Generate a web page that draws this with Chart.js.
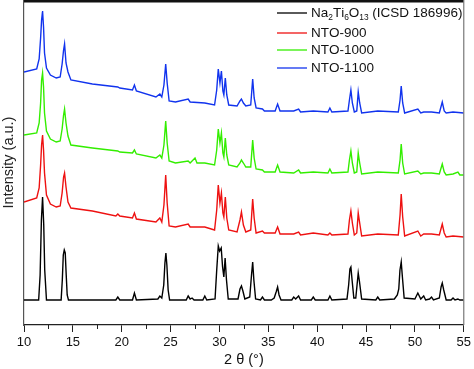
<!DOCTYPE html>
<html>
<head>
<meta charset="utf-8">
<script src="https://cdn.jsdelivr.net/npm/chart.js@4"></script>
<style>
  body { margin: 0; background: #fff; }
  #wrap { width: 474px; height: 369px; }
</style>
</head>
<body>
<div id="wrap"><canvas id="xrdChart" width="474" height="369"></canvas></div>
<script>
// XRD patterns, [2theta, intensity (a.u.)], curves already offset for stacking
const refPattern = [
  [10, 25], [11.5, 25], [11.65, 50], [11.78, 105], [11.9, 128], [12.02, 100], [12.12, 55], [12.3, 25],
  [13.8, 25], [13.92, 45], [14.02, 70], [14.12, 75], [14.22, 72], [14.32, 50], [14.42, 30], [14.55, 25],
  [19.4, 25], [19.6, 28], [19.8, 25], [21.1, 25], [21.3, 32], [21.5, 25],
  [23.7, 26], [23.9, 29], [24.1, 27], [24.3, 40], [24.42, 62], [24.52, 72], [24.62, 60], [24.75, 35], [24.9, 25],
  [26.6, 25], [26.8, 29], [27.0, 26], [27.2, 27], [27.4, 25], [28.3, 25], [28.5, 29], [28.7, 25],
  [29.55, 26], [29.72, 55], [29.88, 79], [30.02, 74], [30.18, 77], [30.32, 58], [30.45, 48],
  [30.58, 67], [30.72, 45], [30.9, 26],
  [31.9, 26], [32.1, 36], [32.25, 39], [32.4, 34], [32.6, 26],
  [33.1, 28], [33.28, 50], [33.4, 63], [33.52, 45], [33.7, 26],
  [34.2, 25], [34.4, 28], [34.6, 25], [35.3, 25], [35.6, 27], [35.8, 33], [35.95, 38], [36.1, 30], [36.3, 25],
  [37.4, 25], [37.6, 28], [37.8, 26], [38.1, 29], [38.3, 25], [39.4, 25], [39.6, 28], [39.8, 25],
  [41.1, 25], [41.3, 29], [41.5, 25],
  [43.05, 26], [43.22, 40], [43.35, 56], [43.45, 58], [43.58, 44], [43.75, 27],
  [43.95, 27], [44.08, 40], [44.2, 52], [44.32, 44], [44.55, 26],
  [46.0, 25], [46.2, 28], [46.4, 25],
  [47.9, 26], [48.2, 30], [48.35, 36], [48.47, 55], [48.6, 63], [48.72, 48], [48.9, 27],
  [50.0, 26], [50.3, 32], [50.6, 26], [50.9, 29], [51.1, 25], [51.5, 26], [51.7, 28], [51.9, 25],
  [52.5, 27], [52.68, 38], [52.8, 42], [52.95, 35], [53.2, 25],
  [53.7, 25], [53.9, 27], [54.1, 25], [54.4, 26], [54.6, 25], [55, 25]
];

const nto900 = [
  [10, 123], [11.3, 127], [11.55, 137], [11.7, 160], [11.8, 180], [11.9, 190], [12.0, 175], [12.1, 152],
  [12.3, 130], [12.7, 121], [13.3, 118], [13.7, 119], [13.9, 132], [14.05, 148], [14.15, 152],
  [14.3, 138], [14.5, 123], [14.8, 117], [17, 114], [19.4, 109], [19.6, 111], [19.8, 109],
  [21.1, 107], [21.3, 112], [21.5, 106], [23.5, 103], [23.9, 107], [24.1, 103], [24.32, 120],
  [24.5, 150], [24.65, 122], [24.85, 99], [25.5, 98], [26.8, 101], [27.0, 98], [28.5, 98],
  [29.5, 95], [29.72, 115], [29.88, 140], [30.05, 122], [30.2, 132], [30.35, 112], [30.45, 108],
  [30.6, 128], [30.75, 107], [30.95, 95], [31.8, 93], [32.1, 105], [32.25, 113], [32.45, 100],
  [32.7, 93], [33.2, 95], [33.4, 126], [33.55, 107], [33.75, 92], [34.4, 94], [34.6, 92],
  [35.7, 92], [35.95, 98], [36.2, 91], [37.6, 91], [38.1, 93], [38.3, 90], [39.6, 92],
  [41.1, 90], [41.3, 92], [41.5, 90], [43.15, 91], [43.3, 105], [43.45, 114], [43.6, 102],
  [43.8, 90], [44.05, 92], [44.2, 112], [44.35, 102], [44.55, 89], [46.2, 91], [48.3, 90],
  [48.48, 110], [48.6, 131], [48.75, 108], [48.95, 89], [50.3, 94], [50.6, 89], [50.9, 91],
  [51.7, 91], [52.5, 90], [52.8, 101], [53.0, 92], [53.2, 88], [53.9, 89], [55, 88]
];

const nto1000 = [
  [10, 190], [11.3, 192], [11.55, 202], [11.7, 222], [11.8, 245], [11.9, 252], [12.0, 238], [12.1, 212],
  [12.3, 194], [12.7, 186], [13.3, 183], [13.7, 184], [13.9, 196], [14.05, 210], [14.15, 216],
  [14.3, 202], [14.5, 189], [14.8, 180], [17, 177], [19.6, 174], [19.8, 173],
  [21.1, 172], [21.3, 175], [21.5, 171], [23.5, 167], [23.9, 170], [24.1, 167], [24.32, 180],
  [24.5, 204], [24.65, 182], [24.85, 164], [25.5, 162], [26.8, 164], [27.0, 162], [27.5, 167],
  [27.7, 162], [28.5, 162], [29.5, 160], [29.72, 175], [29.88, 196], [30.05, 182], [30.2, 192],
  [30.35, 172], [30.45, 168], [30.6, 187], [30.75, 170], [30.95, 160], [31.8, 158], [32.1, 162],
  [32.25, 165], [32.45, 162], [32.7, 158], [33.2, 158], [33.4, 185], [33.55, 167], [33.75, 156],
  [34.4, 155], [34.6, 153], [35.7, 153], [35.95, 160], [36.2, 153], [37.6, 152], [38.1, 155],
  [38.3, 152], [39.6, 153], [41.1, 152], [41.3, 156], [41.5, 152], [43.15, 153], [43.3, 165],
  [43.45, 174], [43.6, 162], [43.8, 152], [44.05, 153], [44.2, 172], [44.35, 162], [44.55, 151],
  [46.2, 153], [48.3, 152], [48.48, 165], [48.6, 181], [48.75, 162], [48.95, 151], [50.3, 154],
  [50.6, 151], [50.9, 152], [51.7, 152], [52.5, 151], [52.8, 161], [53.0, 153], [53.2, 150],
  [53.9, 151], [54.4, 153], [54.6, 150], [55, 150]
];

const nto1100 = [
  [10, 253], [11.3, 256], [11.55, 266], [11.7, 287], [11.8, 305], [11.9, 314], [12.0, 298], [12.1, 272],
  [12.3, 257], [12.7, 250], [13.3, 247], [13.7, 248], [13.9, 261], [14.05, 275], [14.15, 281],
  [14.3, 262], [14.5, 253], [14.8, 245], [17, 241], [19.6, 238], [19.8, 237],
  [21.1, 235], [21.3, 240], [21.5, 234], [23.5, 228], [23.9, 231], [24.1, 228], [24.32, 240],
  [24.5, 261], [24.65, 242], [24.85, 224], [25.5, 223], [26.8, 226], [27.0, 223], [28.5, 222],
  [29.5, 220], [29.72, 235], [29.88, 256], [30.05, 242], [30.2, 254], [30.35, 234], [30.45, 230],
  [30.6, 247], [30.75, 230], [30.95, 220], [31.8, 219], [32.1, 224], [32.25, 226], [32.45, 222],
  [32.7, 219], [33.2, 220], [33.4, 246], [33.55, 227], [33.75, 217], [34.4, 216], [34.6, 214],
  [35.7, 214], [35.95, 221], [36.2, 214], [37.6, 214], [38.1, 216], [38.3, 213], [39.6, 214],
  [41.1, 213], [41.3, 217], [41.5, 213], [43.15, 214], [43.3, 225], [43.45, 235], [43.6, 222],
  [43.8, 213], [44.05, 214], [44.2, 233], [44.35, 222], [44.55, 212], [46.2, 214], [48.3, 213],
  [48.48, 225], [48.6, 239], [48.75, 222], [48.95, 212], [50.3, 216], [50.6, 212], [50.9, 213],
  [51.7, 213], [52.5, 212], [52.8, 223], [53.0, 214], [53.2, 212], [53.9, 213], [55, 212]
];

const seriesLabels = ['Na₂Ti₆O₁₃ (ICSD 186996)', 'NTO-900', 'NTO-1000', 'NTO-1100'];
const seriesColors = ['#000000', '#ee1111', '#33ee00', '#1133ee'];
const xTicks = [10, 15, 20, 25, 30, 35, 40, 45, 50, 55];

const FONT = "'Liberation Sans', Arial, sans-serif";
const subDigits = '₀₁₂₃₄₅₆₇₈₉';

// draws a label, turning unicode subscript digits into small lowered digits
function drawRichText(ctx, text, x, y, size) {
    for (const ch of text) {
        const sub = subDigits.indexOf(ch);
        if (sub >= 0) {
            ctx.font = (size * 0.62) + 'px ' + FONT;
            ctx.fillText(String(sub), x, y + size * 0.38);
            x += ctx.measureText(String(sub)).width;
        } else {
            ctx.font = size + 'px ' + FONT;
            ctx.fillText(ch, x, y);
            x += ctx.measureText(ch).width;
        }
    }
}

const framePlugin = {
    id: 'frame',
    afterDraw(chart) {
        const { ctx, chartArea: a } = chart;
        const x = chart.scales.x;
        ctx.save();

        // top border (thick) and right border
        ctx.strokeStyle = '#111';
        ctx.lineWidth = 3;
        ctx.beginPath();
        ctx.moveTo(a.left, a.top + 1);
        ctx.lineTo(a.right, a.top + 1);
        ctx.stroke();

        ctx.strokeStyle = '#777';
        ctx.lineWidth = 1.2;
        ctx.beginPath();
        ctx.moveTo(a.right, a.top);
        ctx.lineTo(a.right, a.bottom);
        ctx.stroke();

        // minor ticks between the labelled ones
        ctx.strokeStyle = '#222';
        ctx.lineWidth = 1;
        for (let i = 0; i < xTicks.length - 1; i++) {
            const px = Math.round(x.getPixelForValue((xTicks[i] + xTicks[i + 1]) / 2)) + 0.5;
            ctx.beginPath();
            ctx.moveTo(px, a.bottom);
            ctx.lineTo(px, a.bottom + 4);
            ctx.stroke();
        }

        // legend in the upper right corner
        const rows = [13, 33, 50, 68];
        ctx.textBaseline = 'middle';
        ctx.fillStyle = '#111';
        chart.data.datasets.forEach((ds, i) => {
            ctx.strokeStyle = ds.borderColor;
            ctx.lineWidth = 1.3;
            ctx.beginPath();
            ctx.moveTo(277, rows[i]);
            ctx.lineTo(307, rows[i]);
            ctx.stroke();
            drawRichText(ctx, ds.label, 311, rows[i], 13.5);
        });
        ctx.restore();
    }
};

function buildDatasets() {
    const sets = [refPattern, nto900, nto1000, nto1100];
    return sets.map((pts, i) => ({
        label: seriesLabels[i],
        data: pts.map(p => ({ x: p[0], y: p[1] })),
        borderColor: seriesColors[i],
        borderWidth: 1.4,
        pointRadius: 0,
        tension: 0,
        fill: false
    }));
}

const ctx = document.getElementById('xrdChart').getContext('2d');
new Chart(ctx, {
    type: 'line',
    data: { datasets: buildDatasets() },
    options: {
        responsive: false,
        animation: false,
        layout: { padding: { left: 0, right: 8, top: 0, bottom: 0 } },
        plugins: {
            legend: { display: false },
            tooltip: { enabled: false }
        },
        scales: {
            x: {
                type: 'linear',
                min: 10,
                max: 55,
                afterBuildTicks: (scale) => { scale.ticks = xTicks.map(v => ({ value: v })); },
                afterFit: (scale) => { scale.height = 44; },
                ticks: {
                    color: '#111',
                    font: { family: FONT, size: 13 },
                    padding: 3,
                    maxRotation: 0,
                    autoSkip: false
                },
                grid: {
                    drawOnChartArea: false,
                    tickLength: 7,
                    tickColor: '#222',
                    tickWidth: 1
                },
                border: { color: '#222', width: 1.3 },
                title: {
                    display: true,
                    text: '2 θ (°)',
                    color: '#111',
                    font: { family: FONT, size: 14.5 },
                    padding: { top: 0, bottom: 0 }
                }
            },
            y: {
                min: 0,
                max: 325,
                afterFit: (scale) => { scale.width = 24; },
                ticks: { display: false },
                grid: { drawOnChartArea: false, drawTicks: false },
                border: { color: '#555', width: 1.2 },
                title: {
                    display: true,
                    text: 'Intensity (a.u.)',
                    color: '#222',
                    font: { family: FONT, size: 14.5 },
                    padding: { top: 0, bottom: 0 }
                }
            }
        }
    },
    plugins: [framePlugin]
});
</script>
</body>
</html>
